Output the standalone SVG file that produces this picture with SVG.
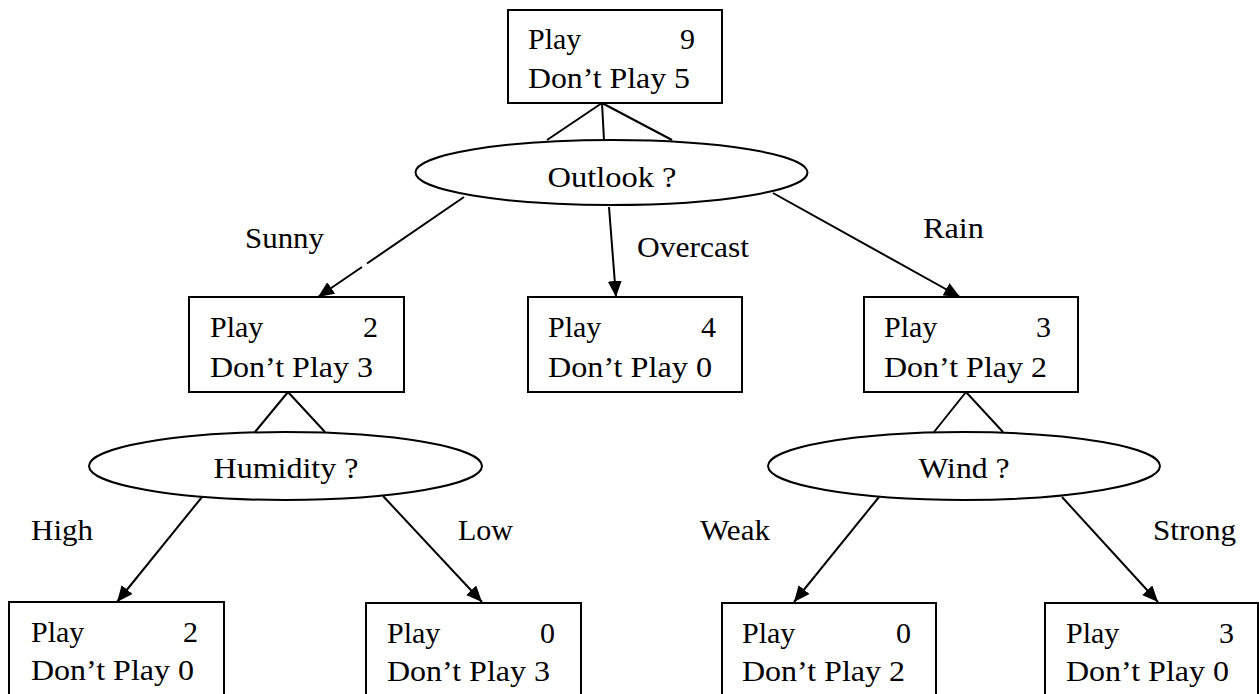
<svg xmlns="http://www.w3.org/2000/svg" width="1259" height="694" viewBox="0 0 1259 694">
<style>
.box{fill:#fff;stroke:#000;stroke-width:2}
.ell{fill:#fff;stroke:#000;stroke-width:2}
.t{font-family:"Liberation Serif","Times New Roman",serif;font-size:30px;fill:#000}
.e{text-anchor:end}
.m{text-anchor:middle}
.c{fill:none;stroke:#000;stroke-width:2}
</style>
<defs>
<marker id="arr" viewBox="0 0 16 14" refX="16" refY="7" markerWidth="16" markerHeight="14" markerUnits="userSpaceOnUse" orient="auto">
<path d="M0,0 L16,7 L0,14 z" fill="#000"/>
</marker>
</defs>
<rect width="1259" height="694" fill="#fff"/>
<g id="connectors">
<path class="c" d="M602,103 L547,140 M602,103 L604,140 M602,103 L672,140"/>
<path class="c" d="M464,197 L367,263.5 M362,267 L318,297" marker-end="url(#arr)"/>
<path class="c" d="M609,207 L616,297" marker-end="url(#arr)"/>
<path class="c" d="M773,193 L960,297" marker-end="url(#arr)"/>
<path class="c" d="M288,392 L255,432 M288,392 L325,432"/>
<path class="c" d="M966,392 L934,432 M966,392 L1003,432"/>
<path class="c" d="M202,497 L117,602" marker-end="url(#arr)"/>
<path class="c" d="M383,496 L482,602" marker-end="url(#arr)"/>
<path class="c" d="M879,497 L794,602" marker-end="url(#arr)"/>
<path class="c" d="M1062,497 L1158,602" marker-end="url(#arr)"/>
</g>
<g id="labels">
<text class="t" x="245" y="248" textLength="79" lengthAdjust="spacingAndGlyphs">Sunny</text>
<text class="t" x="637" y="257" textLength="112" lengthAdjust="spacingAndGlyphs">Overcast</text>
<text class="t" x="923" y="238" textLength="61" lengthAdjust="spacingAndGlyphs">Rain</text>
<text class="t" x="31" y="540" textLength="62" lengthAdjust="spacingAndGlyphs">High</text>
<text class="t" x="458" y="540" textLength="55" lengthAdjust="spacingAndGlyphs">Low</text>
<text class="t" x="700" y="540" textLength="70" lengthAdjust="spacingAndGlyphs">Weak</text>
<text class="t" x="1153" y="540" textLength="83" lengthAdjust="spacingAndGlyphs">Strong</text>
</g>
<g id="root">
<rect class="box" x="508" y="10" width="214" height="93"/>
<text class="t" x="528" y="49">Play</text>
<text class="t e" x="695" y="49">9</text>
<text class="t" x="528" y="88" textLength="162" lengthAdjust="spacingAndGlyphs">Don’t Play 5</text>
</g>
<g id="outlook">
<ellipse class="ell" cx="611.5" cy="172.5" rx="196" ry="32.5"/>
<text class="t m" x="612" y="187" textLength="129" lengthAdjust="spacingAndGlyphs">Outlook ?</text>
</g>
<g id="sunny">
<rect class="box" x="189" y="297" width="215" height="95"/>
<text class="t" x="210" y="337">Play</text>
<text class="t e" x="378" y="337">2</text>
<text class="t" x="210" y="377" textLength="163" lengthAdjust="spacingAndGlyphs">Don’t Play 3</text>
</g>
<g id="overcast">
<rect class="box" x="528" y="297" width="214" height="95"/>
<text class="t" x="548" y="337">Play</text>
<text class="t e" x="716" y="337">4</text>
<text class="t" x="548" y="377" textLength="164" lengthAdjust="spacingAndGlyphs">Don’t Play 0</text>
</g>
<g id="rain">
<rect class="box" x="864" y="297" width="214" height="95"/>
<text class="t" x="884" y="337">Play</text>
<text class="t e" x="1051" y="337">3</text>
<text class="t" x="884" y="377" textLength="163" lengthAdjust="spacingAndGlyphs">Don’t Play 2</text>
</g>
<g id="humidity">
<ellipse class="ell" cx="285.5" cy="466" rx="196.5" ry="34"/>
<text class="t m" x="286" y="478" textLength="145" lengthAdjust="spacingAndGlyphs">Humidity ?</text>
</g>
<g id="wind">
<ellipse class="ell" cx="964" cy="466" rx="196" ry="34"/>
<text class="t m" x="964" y="478" textLength="91" lengthAdjust="spacingAndGlyphs">Wind ?</text>
</g>
<g id="high">
<rect class="box" x="9" y="602" width="215" height="110"/>
<text class="t" x="31" y="642">Play</text>
<text class="t e" x="198" y="642">2</text>
<text class="t" x="31" y="680" textLength="163" lengthAdjust="spacingAndGlyphs">Don’t Play 0</text>
</g>
<g id="low">
<rect class="box" x="366" y="603" width="215" height="110"/>
<text class="t" x="387" y="643">Play</text>
<text class="t e" x="555" y="643">0</text>
<text class="t" x="387" y="681" textLength="163" lengthAdjust="spacingAndGlyphs">Don’t Play 3</text>
</g>
<g id="weak">
<rect class="box" x="722" y="603" width="214" height="110"/>
<text class="t" x="742" y="643">Play</text>
<text class="t e" x="911" y="643">0</text>
<text class="t" x="742" y="681" textLength="163" lengthAdjust="spacingAndGlyphs">Don’t Play 2</text>
</g>
<g id="strong">
<rect class="box" x="1045" y="603" width="213" height="110"/>
<text class="t" x="1066" y="643">Play</text>
<text class="t e" x="1234" y="643">3</text>
<text class="t" x="1066" y="681" textLength="163" lengthAdjust="spacingAndGlyphs">Don’t Play 0</text>
</g>
</svg>
